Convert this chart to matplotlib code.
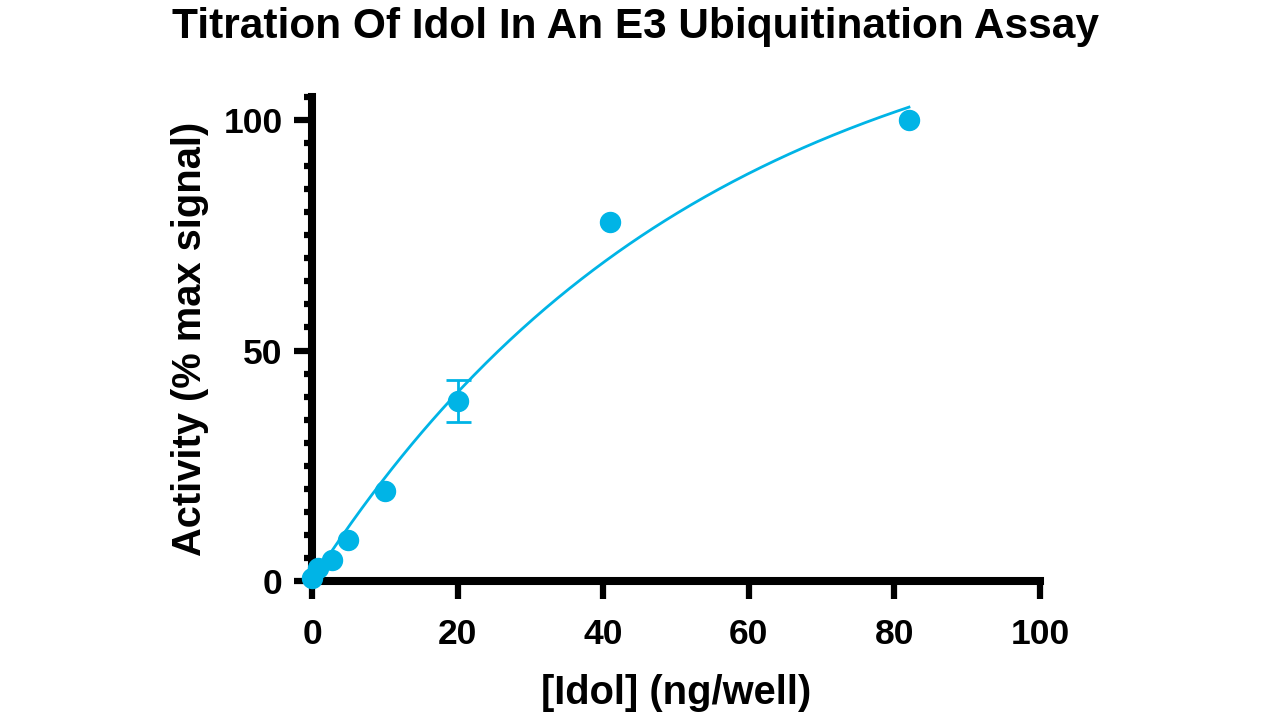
import numpy as np
import matplotlib
matplotlib.use("Agg")
import matplotlib.pyplot as plt
from matplotlib.ticker import MultipleLocator

plt.rcParams['font.family'] = ['Liberation Sans', 'DejaVu Sans']
plt.rcParams['font.weight'] = 'bold'

# data
idol = [0, 0.8, 2.7, 5, 10, 20, 41, 82]
activity = [0.6, 2.8, 4.6, 8.9, 19.6, 39.0, 77.8, 100.0]
err = [0, 0, 0, 0, 0, 4.5, 0, 0]

# fitted curve (one phase association), parameters
ymax = 131.0
k = 0.01873

blue = '#00B4E6'

fig = plt.figure(figsize=(12.8, 7.2), dpi=100)
ax = fig.add_axes([312/1280, 1-581/720, (1040-312)/1280, (581-97)/720])

xfit = np.linspace(0, 82, 300)
ax.plot(xfit, ymax*(1-np.exp(-k*xfit)), color=blue, lw=2, zorder=2)

# error bars only where there is an error
xe = [x for x, e in zip(idol, err) if e > 0]
ye = [y for y, e in zip(activity, err) if e > 0]
ee = [e for e in err if e > 0]
ax.errorbar(xe, ye, yerr=ee, fmt='none', ecolor=blue,
            capsize=9, elinewidth=2, capthick=2, zorder=3)
ax.plot(idol, activity, 'o', color=blue, ms=14.4, zorder=4, clip_on=False)

ax.set_xlim(0, 100)
ax.set_ylim(0, 105)
ax.xaxis.set_major_locator(MultipleLocator(20))
ax.yaxis.set_major_locator(MultipleLocator(50))
ax.yaxis.set_minor_locator(MultipleLocator(5))

for s in ['top', 'right']:
    ax.spines[s].set_visible(False)
for s in ['left', 'bottom']:
    ax.spines[s].set_linewidth(5.8)
    ax.spines[s].set_capstyle('projecting')

ax.tick_params(which='major', length=13, width=4.5, labelsize=25.5)
ax.tick_params(which='minor', length=6, width=4.5)
ax.tick_params(axis='x', pad=14)
ax.tick_params(axis='y', pad=8)
for lab in ax.get_xticklabels() + ax.get_yticklabels():
    lab.set_fontweight('bold')

ax.set_xlabel('[Idol] (ng/well)', fontsize=28.7, fontweight='bold', labelpad=16)
ax.set_ylabel('Activity (% max signal)', fontsize=28.7, fontweight='bold', labelpad=10.5)
fig.suptitle('Titration Of Idol In An E3 Ubiquitination Assay', fontsize=30.5,
             fontweight='bold', x=636/1280, y=1-27/720, va='center')

fig.savefig('out.png', dpi=100)
